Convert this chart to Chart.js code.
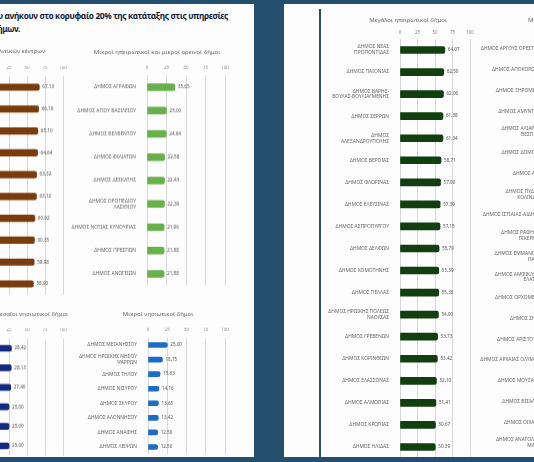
<!DOCTYPE html>
<html>
<head>
<meta charset="utf-8">
<script src="https://cdn.jsdelivr.net/npm/chart.js@4"></script>
<style>
  html, body { margin: 0; padding: 0; }
  body { width: 534px; height: 462px; background: #234e6d; position: relative; overflow: hidden; font-family: "Noto Sans", sans-serif; }
  .panel { position: absolute; background: #fdfdfd; overflow: hidden; }
  .head { position: absolute; white-space: nowrap; text-align: right; font-weight: 700; font-size: 8.3px; letter-spacing: -0.35px; color: #0b1a3b; }
  .rule { position: absolute; background: #2f4c66; }
</style>
</head>
<body>
<div class="panel" id="leftPanel" style="left:0;top:4px;width:254px;height:453px">
  <div class="head" style="right:26px;top:6px">Ποσοστό δήμων που ανήκουν στο κορυφαίο 20% της κατάταξης στις υπηρεσίες</div>
  <div class="head" style="right:234px;top:19px">ανά κατηγορία δήμων.</div>
</div>
<div class="panel" id="rightPanel" style="left:284px;top:4px;width:250px;height:453px">
  <div class="rule" style="left:35px;top:5px;width:1.5px;height:448px"></div>
</div>
<script>
// Δήμοι μητροπολιτικών κέντρων (labels fall outside the crop)
const metroLabels = ["ΔΗΜΟΣ ΒΡΙΛΗΣΣΙΩΝ", "ΔΗΜΟΣ ΚΗΦΙΣΙΑΣ", "ΔΗΜΟΣ ΧΑΛΑΝΔΡΙΟΥ", "ΔΗΜΟΣ ΑΜΑΡΟΥΣΙΟΥ", "ΔΗΜΟΣ ΠΑΠΑΓΟΥ-ΧΟΛΑΡΓΟΥ",
  "ΔΗΜΟΣ ΦΙΛΟΘΕΗΣ-ΨΥΧΙΚΟΥ", "ΔΗΜΟΣ ΠΕΝΤΕΛΗΣ", "ΔΗΜΟΣ ΛΥΚΟΒΡΥΣΗΣ-ΠΕΥΚΗΣ", "ΔΗΜΟΣ ΗΡΑΚΛΕΙΟΥ", "ΔΗΜΟΣ ΜΕΤΑΜΟΡΦΩΣΗΣ"];
const metroValues = [67.13, 66.16, 65.10, 64.64, 63.32, 63.12, 60.92, 60.35, 59.98, 58.90];

// Μικροί ηπειρωτικοί και μικροί ορεινοί δήμοι
const smallMainLabels = ["ΔΗΜΟΣ ΑΓΡΑΦΩΝ", "ΔΗΜΟΣ ΑΓΙΟΥ ΒΑΣΙΛΕΙΟΥ", "ΔΗΜΟΣ ΒΕΛΒΕΝΤΟΥ", "ΔΗΜΟΣ ΦΙΛΙΑΤΩΝ", "ΔΗΜΟΣ ΔΕΣΚΑΤΗΣ",
  ["ΔΗΜΟΣ ΟΡΟΠΕΔΙΟΥ", "ΛΑΣΙΘΙΟΥ"], "ΔΗΜΟΣ ΝΟΤΙΑΣ ΚΥΝΟΥΡΙΑΣ", "ΔΗΜΟΣ ΠΡΕΣΠΩΝ", "ΔΗΜΟΣ ΑΝΩΓΕΙΩΝ"];
const smallMainValues = [35.65, 25.00, 24.64, 22.58, 22.43, 22.39, 21.96, 21.88, 21.88];

// Μεσαίοι νησιωτικοί δήμοι (labels fall outside the crop)
const midIslandLabels = ["ΔΗΜΟΣ ΠΑΡΟΥ", "ΔΗΜΟΣ ΣΑΜΟΥ", "ΔΗΜΟΣ ΣΥΡΟΥ-ΕΡΜΟΥΠΟΛΗΣ", "ΔΗΜΟΣ ΝΑΞΟΥ", "ΔΗΜΟΣ ΚΩ", "ΔΗΜΟΣ ΛΕΣΒΟΥ"];
const midIslandValues = [28.42, 28.13, 27.40, 25.00, 25.00, 25.00];

// Μικροί νησιωτικοί δήμοι
const smallIslandLabels = ["ΔΗΜΟΣ ΜΕΓΑΝΗΣΙΟΥ", ["ΔΗΜΟΣ ΗΡΩΙΚΗΣ ΝΗΣΟΥ", "ΨΑΡΡΩΝ"], "ΔΗΜΟΣ ΤΗΛΟΥ", "ΔΗΜΟΣ ΝΙΣΥΡΟΥ",
  "ΔΗΜΟΣ ΣΚΥΡΟΥ", "ΔΗΜΟΣ ΑΛΟΝΝΗΣΟΥ", "ΔΗΜΟΣ ΑΝΑΦΗΣ", "ΔΗΜΟΣ ΛΕΙΨΩΝ"];
const smallIslandValues = [25.00, 18.75, 15.63, 14.16, 13.65, 13.42, 12.50, 12.50];

// Μεγάλοι ηπειρωτικοί δήμοι
const bigMainLabels = [["ΔΗΜΟΣ ΝΕΑΣ", "ΠΡΟΠΟΝΤΙΔΑΣ"], "ΔΗΜΟΣ ΠΑΙΟΝΙΑΣ", ["ΔΗΜΟΣ ΒΑΡΗΣ-", "ΒΟΥΛΑΣ-ΒΟΥΛΙΑΓΜΕΝΗΣ"],
  "ΔΗΜΟΣ ΣΕΡΡΩΝ", ["ΔΗΜΟΣ", "ΑΛΕΞΑΝΔΡΟΥΠΟΛΗΣ"], "ΔΗΜΟΣ ΒΕΡΟΙΑΣ", "ΔΗΜΟΣ ΦΛΩΡΙΝΑΣ", "ΔΗΜΟΣ ΕΛΕΥΣΙΝΑΣ",
  "ΔΗΜΟΣ ΑΣΠΡΟΠΥΡΓΟΥ", "ΔΗΜΟΣ ΔΕΛΦΩΝ", "ΔΗΜΟΣ ΚΟΜΟΤΗΝΗΣ", "ΔΗΜΟΣ ΠΕΛΛΑΣ", ["ΔΗΜΟΣ ΗΡΩΙΚΗΣ ΠΟΛΕΩΣ", "ΝΑΟΥΣΑΣ"],
  "ΔΗΜΟΣ ΓΡΕΒΕΝΩΝ", "ΔΗΜΟΣ ΚΟΡΙΝΘΙΩΝ", "ΔΗΜΟΣ ΕΛΑΣΣΟΝΑΣ", "ΔΗΜΟΣ ΑΛΜΩΠΙΑΣ", "ΔΗΜΟΣ ΚΡΩΠΙΑΣ", "ΔΗΜΟΣ ΗΛΙΔΑΣ"];
const bigMainValues = [64.07, 62.50, 62.06, 61.38, 61.34, 58.71, 57.90, 57.39, 57.15, 55.79, 55.39, 55.30, 54.90,
  53.73, 53.42, 52.10, 51.41, 50.67, 50.39];

// Μεσαίοι ηπειρωτικοί δήμοι (bars fall outside the crop)
const midMainLabels = ["ΔΗΜΟΣ ΑΡΓΟΥΣ ΟΡΕΣΤΙΚΟΥ", "ΔΗΜΟΣ ΑΠΟΚΟΡΩΝΟΥ", "ΔΗΜΟΣ ΞΗΡΟΜΕΡΟΥ", "ΔΗΜΟΣ ΑΜΥΝΤΑΙΟΥ",
  ["ΔΗΜΟΣ ΑΛΙΑΡΤΟΥ-", "ΘΕΣΠΙΕΩΝ"], "ΔΗΜΟΣ ΔΟΜΟΚΟΥ", "ΔΗΜΟΣ ΑΓΙΑΣ", ["ΔΗΜΟΣ ΠΥΔΝΑΣ-", "ΚΟΛΙΝΔΡΟΥ"],
  "ΔΗΜΟΣ ΙΣΤΙΑΙΑΣ-ΑΙΔΗΨΟΥ", ["ΔΗΜΟΣ ΡΑΦΗΝΑΣ-", "ΠΙΚΕΡΜΙΟΥ"], ["ΔΗΜΟΣ ΕΜΜΑΝΟΥΗΛ", "ΠΑΠΠΑ"],
  ["ΔΗΜΟΣ ΑΜΦΙΚΛΕΙΑΣ-", "ΕΛΑΤΕΙΑΣ"], "ΔΗΜΟΣ ΟΡΧΟΜΕΝΟΥ", "ΔΗΜΟΣ ΖΗΡΟΥ", "ΔΗΜΟΣ ΑΡΙΣΤΟΤΕΛΗ",
  "ΔΗΜΟΣ ΑΡΧΑΙΑΣ ΟΛΥΜΠΙΑΣ", "ΔΗΜΟΣ ΜΟΥΖΑΚΙΟΥ", "ΔΗΜΟΣ ΒΙΣΑΛΤΙΑΣ", "ΔΗΜΟΣ ΟΙΧΑΛΙΑΣ", ["ΔΗΜΟΣ ΑΝΑΤΟΛΙΚΗΣ", "ΜΑΝΗΣ"]];
const midMainValues = [45.10, 43.75, 42.86, 41.90, 41.67, 40.63, 40.00, 39.47, 39.29, 38.89, 38.46, 38.10, 37.50,
  37.04, 36.84, 36.36, 35.71, 35.29, 35.00, 34.78];

const FONT = '"Noto Sans", sans-serif';
const GRID = '#d8d8d8';

const leftPanel = { el: document.getElementById('leftPanel'), x: 0, y: 4 };
const rightPanel = { el: document.getElementById('rightPanel'), x: 284, y: 4 };

// value printed just past the end of each bar
const valueLabels = {
    id: 'valueLabels',
    afterDatasetsDraw(chart) {
        const ctx = chart.ctx;
        const values = chart.data.datasets[0].data;
        ctx.save();
        ctx.font = '4.6px ' + FONT;
        ctx.fillStyle = '#555';
        ctx.textBaseline = 'middle';
        chart.getDatasetMeta(0).data.forEach((bar, i) => {
            ctx.fillText(values[i].toFixed(2).replace('.', ','), bar.x + 3, bar.y);
        });
        ctx.restore();
    }
};

// small grey heading over each chart
const panelTitle = {
    id: 'panelTitle',
    afterDraw(chart, args, opts) {
        const ctx = chart.ctx;
        ctx.save();
        ctx.font = '6px ' + FONT;
        ctx.fillStyle = '#666';
        ctx.textAlign = opts.align;
        ctx.textBaseline = 'middle';
        ctx.fillText(opts.text, opts.x, opts.y);
        ctx.restore();
    }
};

function barChart(panel, c) {
    const n = c.labels.length;
    const step = (c.last - c.first) / (n - 1);
    const top = c.first - step / 2;
    const bottom = c.last + step / 2;
    const room = 120, hx = 10, padR = 30, padB = 12;
    const left = c.x0 - room;
    const boxTop = c.titleY - 8;

    const wrap = document.createElement('div');
    wrap.style.position = 'absolute';
    wrap.style.left = (left - panel.x) + 'px';
    wrap.style.top = (boxTop - panel.y) + 'px';
    wrap.style.width = (room + c.x100 - c.x0 + padR) + 'px';
    wrap.style.height = (bottom + padB - boxTop) + 'px';
    const canvas = document.createElement('canvas');
    wrap.appendChild(canvas);
    panel.el.appendChild(wrap);

    new Chart(canvas, {
        type: 'bar',
        data: {
            labels: c.labels,
            datasets: [{
                data: c.values,
                backgroundColor: c.color,
                barThickness: c.thickness,
                borderRadius: 2
            }]
        },
        options: {
            indexAxis: 'y',
            responsive: true,
            maintainAspectRatio: false,
            animation: false,
            layout: { padding: { left: 0, right: padR, top: top - hx - boxTop, bottom: padB } },
            plugins: {
                legend: { display: false },
                tooltip: { enabled: false },
                panelTitle: { text: c.title, x: c.titleX - left, y: c.titleY - boxTop, align: c.titleAlign || 'center' }
            },
            scales: {
                x: {
                    position: 'top',
                    min: 0,
                    max: 100,
                    grid: { color: GRID, drawTicks: false },
                    border: { display: false },
                    ticks: { stepSize: 25, padding: top - 2.7 - c.tickY, color: '#888', font: { size: 4.5, family: FONT } },
                    afterFit: (s) => { s.height = hx; }
                },
                y: {
                    grid: { display: false },
                    border: { display: false },
                    ticks: { autoSkip: false, padding: 3, color: '#666', font: { size: 4.9, family: FONT, lineHeight: 1.2 } },
                    afterFit: (s) => { s.width = room; }
                }
            }
        },
        plugins: [valueLabels, panelTitle]
    });
}

barChart(leftPanel, {
    title: 'Δήμοι μητροπολιτικών κέντρων', titleX: 45, titleY: 51, titleAlign: 'right',
    labels: metroLabels, values: metroValues, color: '#7a3c0c', thickness: 6.5,
    x0: -9, x100: 63, first: 87, last: 283, tickY: 68
});
barChart(leftPanel, {
    title: 'Μικροί ηπειρωτικοί και μικροί ορεινοί δήμοι', titleX: 157, titleY: 52,
    labels: smallMainLabels, values: smallMainValues, color: '#67b14a', thickness: 7,
    x0: 147, x100: 225, first: 87, last: 273, tickY: 68
});
barChart(leftPanel, {
    title: 'Μεσαίοι νησιωτικοί δήμοι', titleX: 68, titleY: 314, titleAlign: 'right',
    labels: midIslandLabels, values: midIslandValues, color: '#142a82', thickness: 6,
    x0: -9, x100: 63, first: 348, last: 445, tickY: 330
});
barChart(leftPanel, {
    title: 'Μικροί νησιωτικοί δήμοι', titleX: 158, titleY: 314,
    labels: smallIslandLabels, values: smallIslandValues, color: '#1c6dc6', thickness: 5,
    x0: 148, x100: 225, first: 345, last: 447, tickY: 330
});
barChart(rightPanel, {
    title: 'Μεγάλοι ηπειρωτικοί δήμοι', titleX: 408, titleY: 20,
    labels: bigMainLabels, values: bigMainValues, color: '#123f10', thickness: 7,
    x0: 400, x100: 470, first: 50, last: 447, tickY: 33
});
barChart(rightPanel, {
    title: 'Μεσαίοι ηπειρωτικοί δήμοι', titleX: 528, titleY: 20, titleAlign: 'left',
    labels: midMainLabels, values: midMainValues, color: '#2c6e2a', thickness: 7,
    x0: 556, x100: 626, first: 49, last: 443, tickY: 33
});
</script>
</body>
</html>
